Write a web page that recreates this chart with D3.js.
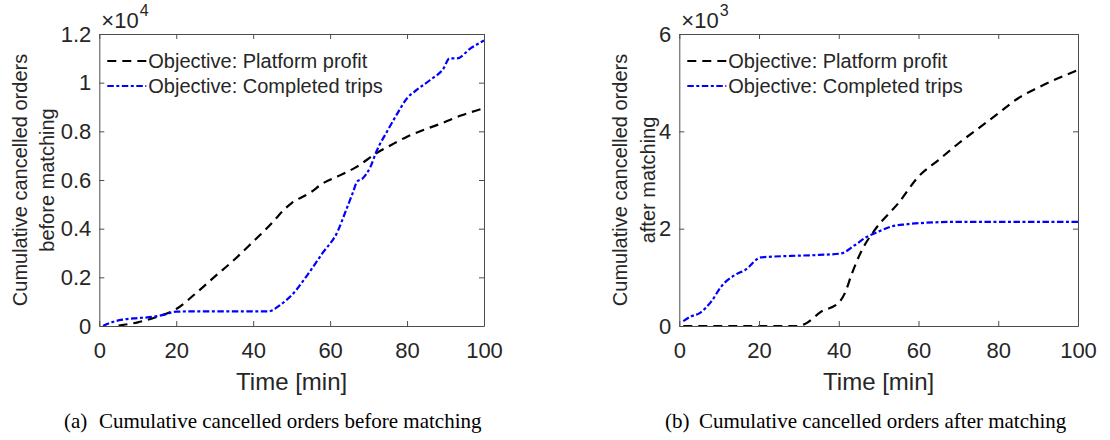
<!DOCTYPE html>
<html>
<head>
<meta charset="utf-8">
<script src="https://cdn.jsdelivr.net/npm/d3@7"></script>
<style>
  html, body { margin: 0; padding: 0; background: #fff; }
  svg { display: block; }
  text { font-family: "Liberation Sans", Arial, sans-serif; fill: #262626; }
  .caption { font-family: "Liberation Serif", "Times New Roman", serif; fill: #000; }
</style>
</head>
<body>
<svg id="chart" width="1110" height="440"></svg>
<script>
// ---- Panel (a): cumulative cancelled orders before matching ----
const timeA_profit = [5, 10, 15, 20, 25, 30, 35, 40, 45, 48, 50, 55, 58, 62, 67, 72, 76, 80, 85, 89, 94, 100];
const valsA_profit = [20, 150, 380, 700, 1330, 2030, 2710, 3470, 4250, 4780, 5050, 5500, 5850, 6150, 6550, 7100, 7450, 7780, 8100, 8330, 8650, 8950];
const timeA_trips  = [1, 2, 4, 6, 9, 14, 17, 20, 25, 30, 35, 40, 44, 45, 47, 50, 55, 58, 62, 64, 66, 67, 68.5, 70.5, 72, 75, 77.5, 80, 82.5, 86, 89.5, 91, 93, 96.5, 100];
const valsA_trips  = [0, 80, 190, 260, 315, 380, 470, 590, 600, 600, 600, 600, 600, 650, 860, 1270, 2300, 2990, 3900, 4700, 5520, 5930, 6070, 6550, 7160, 8050, 8740, 9360, 9700, 10110, 10590, 11000, 11000, 11410, 11730];
const ticksA_y = [0, 2000, 4000, 6000, 8000, 10000, 12000];

// ---- Panel (b): cumulative cancelled orders after matching ----
const timeB_profit = [1, 10, 20, 29.5, 31.5, 35.5, 40, 41.5, 43.3, 45.8, 49, 55, 60, 65, 70, 75, 80, 85, 90, 95, 100];
const valsB_profit = [0, 0, 0, 0, 40, 290, 480, 670, 1080, 1560, 1970, 2530, 3070, 3410, 3750, 4060, 4370, 4680, 4900, 5090, 5260];
const timeB_trips  = [1, 3, 5, 8, 10.5, 14, 16.5, 20.5, 28, 35, 40.5, 44, 47, 50, 53, 57, 61.5, 70, 80, 90, 100];
const valsB_trips  = [100, 200, 260, 500, 810, 1050, 1150, 1410, 1440, 1460, 1490, 1660, 1830, 1940, 2040, 2090, 2120, 2140, 2140, 2140, 2140];
const ticksB_y = [0, 2000, 4000, 6000];

// ---- Shared ----
const ticksX = [0, 20, 40, 60, 80, 100];
const seriesNames = ["Objective: Platform profit", "Objective: Completed trips"];
const xLabel = "Time [min]";

const svg = d3.select("#chart");
const lineColors = ["#000000", "#0000ff"];
const lineDash = ["9,6", "6.5,2.5,3,2.5"];
const axisColor = "#4d4d4d";

const panels = [
  {
    left: 99.3, right: 484, top: 34, bottom: 326,
    yMax: 12000, yTicks: ticksA_y, scaleDiv: 1e4, exponent: "4",
    series: [
      { t: timeA_profit, v: valsA_profit },
      { t: timeA_trips,  v: valsA_trips }
    ],
    yLabel: ["Cumulative cancelled orders", "before matching"],
    yLabelX: [26.7, 53.5],
    captionTag: "(a)", captionTagX: 64,
    caption: "Cumulative cancelled orders before matching", captionX: 99
  },
  {
    left: 679.3, right: 1078, top: 34, bottom: 326,
    yMax: 6000, yTicks: ticksB_y, scaleDiv: 1e3, exponent: "3",
    series: [
      { t: timeB_profit, v: valsB_profit },
      { t: timeB_trips,  v: valsB_trips }
    ],
    yLabel: ["Cumulative cancelled orders", "after matching"],
    yLabelX: [626.7, 654.6],
    captionTag: "(b)", captionTagX: 665,
    caption: "Cumulative cancelled orders after matching", captionX: 699
  }
];

const fmt = d3.format("~g");

panels.forEach(p => {
  const x = d3.scaleLinear().domain([0, 100]).range([p.left, p.right]);
  const y = d3.scaleLinear().domain([0, p.yMax]).range([p.bottom, p.top]);
  const g = svg.append("g");

  // data lines (clipped to the axes box)
  const clipId = "clip" + Math.round(p.left);
  svg.append("defs").append("clipPath").attr("id", clipId)
    .append("rect").attr("x", p.left).attr("y", p.top)
    .attr("width", p.right - p.left).attr("height", p.bottom - p.top);

  const line = d3.line().x(d => x(d[0])).y(d => y(d[1])).curve(d3.curveMonotoneX);
  const lines = g.append("g").attr("clip-path", `url(#${clipId})`);
  p.series.forEach((s, i) => {
    const pts = s.t.map((t, k) => [t, s.v[k]]);
    lines.append("path")
      .attr("d", line(pts))
      .attr("fill", "none")
      .attr("stroke", lineColors[i])
      .attr("stroke-width", 2.2)
      .attr("stroke-dasharray", lineDash[i]);
  });

  // axes box with inward ticks on all four sides
  const axG = g.append("g");
  const xb = d3.axisBottom(x).tickValues(ticksX).tickSizeInner(-5).tickSizeOuter(0).tickPadding(16);
  const xt = d3.axisTop(x).tickValues(ticksX).tickSizeInner(-5).tickSizeOuter(0).tickFormat("");
  const yl = d3.axisLeft(y).tickValues(p.yTicks).tickSizeInner(-5).tickSizeOuter(0).tickPadding(8)
    .tickFormat(v => fmt(v / p.scaleDiv));
  const yr = d3.axisRight(y).tickValues(p.yTicks).tickSizeInner(-5).tickSizeOuter(0).tickFormat("");

  axG.append("g").attr("transform", `translate(0,${p.bottom})`).call(xb);
  axG.append("g").attr("transform", `translate(0,${p.top})`).call(xt);
  axG.append("g").attr("transform", `translate(${p.left},0)`).call(yl);
  axG.append("g").attr("transform", `translate(${p.right},0)`).call(yr);

  axG.selectAll(".domain").attr("stroke", axisColor).attr("stroke-width", 1);
  axG.selectAll(".tick line").attr("stroke", axisColor).attr("stroke-width", 1);
  axG.selectAll(".tick text")
    .attr("fill", "#262626")
    .style("font-family", '"Liberation Sans", Arial, sans-serif')
    .style("font-size", "22px");

  // exponent multiplier above the y axis
  const ex = g.append("text").attr("x", p.left + 2).attr("y", 28).style("font-size", "22px");
  ex.append("tspan").text("\u00d710");
  ex.append("tspan").attr("dy", -12).attr("dx", 1).style("font-size", "16px").text(p.exponent);

  // axis labels
  g.append("text")
    .attr("x", (p.left + p.right) / 2).attr("y", 390)
    .attr("text-anchor", "middle").style("font-size", "24px")
    .text(xLabel);

  p.yLabel.forEach((lbl, i) => {
    g.append("text")
      .attr("transform", `translate(${p.yLabelX[i]},${(p.top + p.bottom) / 2}) rotate(-90)`)
      .attr("text-anchor", "middle").style("font-size", "20px")
      .text(lbl);
  });

  // legend
  const legRows = [61, 86];
  seriesNames.forEach((name, i) => {
    const ly = legRows[i];
    g.append("line")
      .attr("x1", p.left + 8).attr("x2", p.left + 47)
      .attr("y1", ly).attr("y2", ly)
      .attr("stroke", lineColors[i]).attr("stroke-width", 2.2)
      .attr("stroke-dasharray", lineDash[i]);
    g.append("text")
      .attr("x", p.left + 49).attr("y", ly).attr("dy", "0.35em")
      .style("font-size", "20px")
      .text(name);
  });

  // caption
  g.append("text").attr("class", "caption")
    .attr("x", p.captionTagX).attr("y", 428).style("font-size", "21px")
    .text(p.captionTag);
  g.append("text").attr("class", "caption")
    .attr("x", p.captionX).attr("y", 428).style("font-size", "21px")
    .text(p.caption);
});
</script>
</body>
</html>
